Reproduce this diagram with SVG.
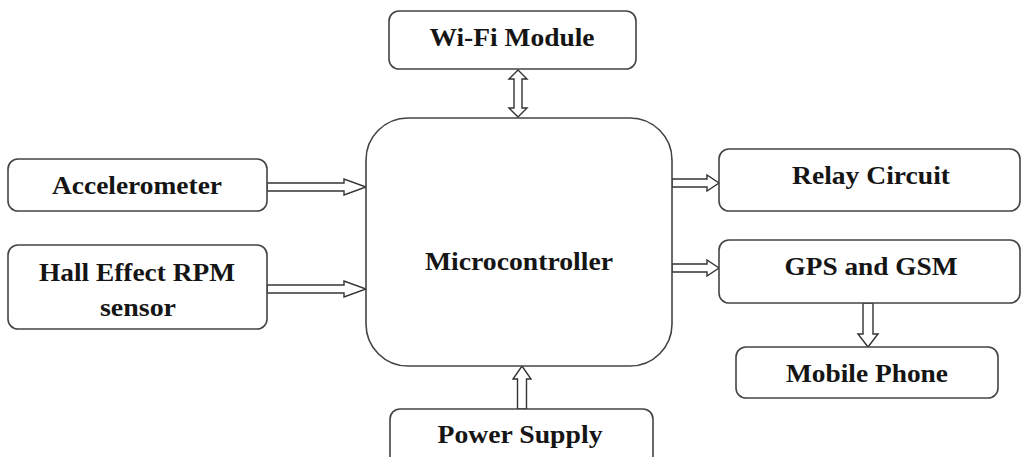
<svg xmlns="http://www.w3.org/2000/svg" width="1022" height="457" viewBox="0 0 1022 457">
<style>
.box{fill:#fff;stroke:#444;stroke-width:1.6}
.lbl{font-family:"Liberation Serif","Times New Roman",serif;font-weight:bold;font-size:26px;fill:#151515;text-anchor:middle}
.arr{fill:#fff;stroke:#333;stroke-width:1.4;stroke-linejoin:miter}
</style>
<rect width="1022" height="457" fill="#fff"/>
<g id="connectors">
<polygon class="arr" points="267,183 344,183 344,179 366,187 344,195 344,191 267,191"/>
<polygon class="arr" points="267,285 344,285 344,281 366,289 344,297 344,293 267,293"/>
<polygon class="arr" points="672,179 707,179 707,175 719,183 707,191 707,187 672,187"/>
<polygon class="arr" points="672,264 707,264 707,260 719,268 707,276 707,272 672,272"/>
<polygon class="arr" points="518,70 527,79 522,79 522,108 527,108 518,117 509,108 514,108 514,79 509,79"/>
<polygon class="arr" points="517.5,409 517.5,379 513,379 522,366 531,379 526.5,379 526.5,409"/>
<polygon class="arr" points="863,303 863,334 858,334 868,347 878,334 873,334 873,303"/>
</g>
<g id="wifi">
<rect class="box" x="389" y="11" width="247" height="58" rx="10"/>
<text class="lbl" x="512" y="46" textLength="165" lengthAdjust="spacingAndGlyphs">Wi-Fi Module</text>
</g>
<g id="micro">
<rect class="box" x="366" y="118" width="306" height="248" rx="42"/>
<text class="lbl" x="519" y="270" textLength="188" lengthAdjust="spacingAndGlyphs">Microcontroller</text>
</g>
<g id="accel">
<rect class="box" x="8" y="159" width="259" height="52" rx="10"/>
<text class="lbl" x="137" y="194" textLength="170" lengthAdjust="spacingAndGlyphs">Accelerometer</text>
</g>
<g id="hall">
<rect class="box" x="8" y="245" width="259" height="84" rx="10"/>
<text class="lbl" x="137" y="281" textLength="196" lengthAdjust="spacingAndGlyphs">Hall Effect RPM</text>
<text class="lbl" x="138" y="316" textLength="76" lengthAdjust="spacingAndGlyphs">sensor</text>
</g>
<g id="relay">
<rect class="box" x="719" y="149" width="301" height="62" rx="10"/>
<text class="lbl" x="871" y="184" textLength="158" lengthAdjust="spacingAndGlyphs">Relay Circuit</text>
</g>
<g id="gps">
<rect class="box" x="719" y="240" width="301" height="63" rx="10"/>
<text class="lbl" x="871" y="275" textLength="173" lengthAdjust="spacingAndGlyphs">GPS and GSM</text>
</g>
<g id="mobile">
<rect class="box" x="736" y="347" width="262" height="51" rx="10"/>
<text class="lbl" x="867" y="382" textLength="162" lengthAdjust="spacingAndGlyphs">Mobile Phone</text>
</g>
<g id="power">
<rect class="box" x="390" y="409" width="263" height="60" rx="10"/>
<text class="lbl" x="520" y="443" textLength="165" lengthAdjust="spacingAndGlyphs">Power Supply</text>
</g>
</svg>
